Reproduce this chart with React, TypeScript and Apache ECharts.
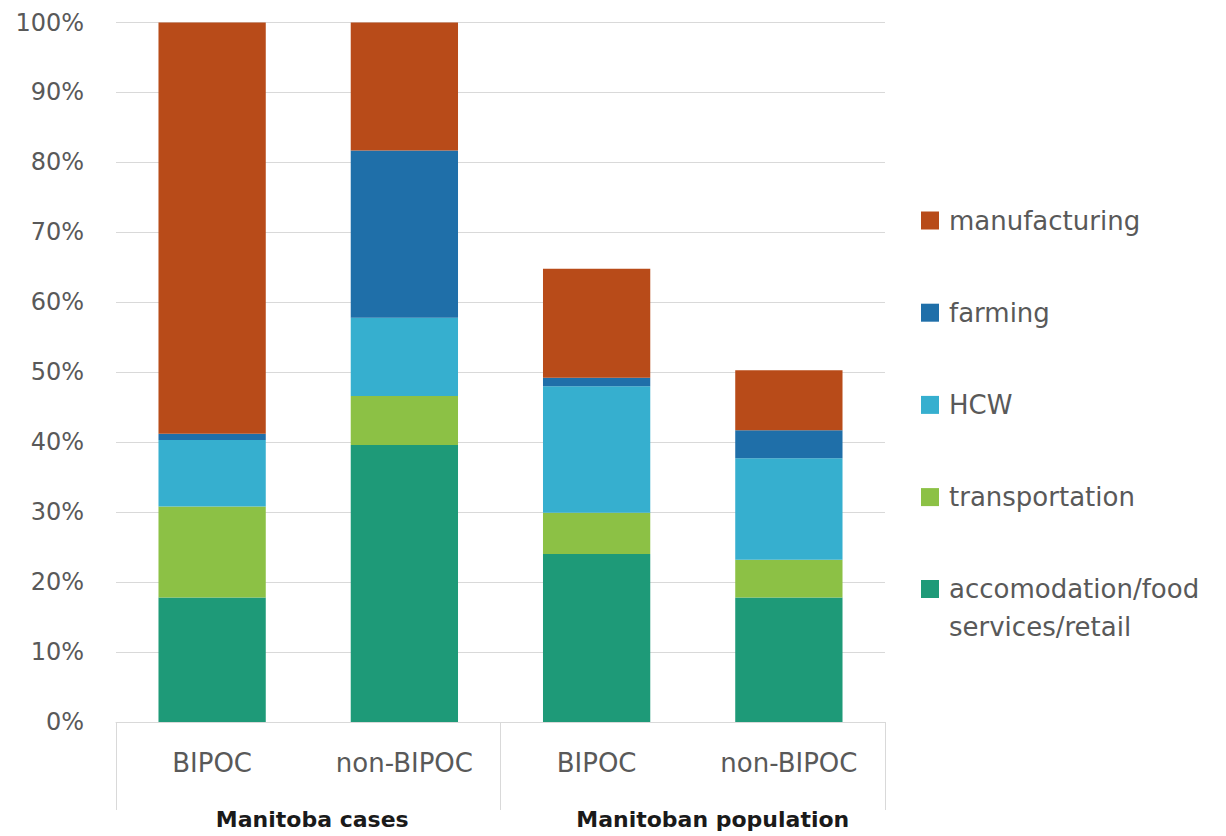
import React, { useEffect, useRef } from "react";
import * as echarts from "echarts";

const categories = ["BIPOC", "non-BIPOC", "BIPOC", "non-BIPOC"];
const groups = ["Manitoba cases", "Manitoban population"];
const ACCOM = "accomodation/food services/retail";
const accommodation = [17.8, 39.6, 24.0, 17.8];
const transportation = [13.0, 7.0, 5.9, 5.4];
const hcw = [9.5, 11.2, 18.1, 14.5];
const farming = [0.9, 23.9, 1.2, 4.0];
const manufacturing = [58.8, 18.3, 15.6, 8.6];

const FONT = "DejaVu Sans";
const GRAY = "#595959";
const LINE = "#d9d9d9";

export default function App() {
  const ref = useRef<HTMLDivElement>(null);
  useEffect(() => {
    if (!ref.current) return;
    const chart = echarts.init(ref.current, undefined, { renderer: "svg" });
    const legendText = {
      fontFamily: FONT,
      fontSize: 26,
      color: GRAY,
      lineHeight: 38,
      padding: [0, 0, 0, 5],
    };
    const bar = (name: string, data: number[], color: string) => ({
      name,
      type: "bar",
      stack: "total",
      data,
      barWidth: "55.8%",
      itemStyle: { color },
      emphasis: { disabled: true },
    });
    chart.setOption({
      animation: false,
      backgroundColor: "#ffffff",
      grid: { left: 116, right: 341, top: 22.5, bottom: 114, containLabel: false },
      legend: [
        {
          orient: "vertical",
          left: 921,
          top: 201.5,
          padding: 0,
          itemWidth: 18,
          itemHeight: 18,
          itemGap: 54.2,
          icon: "rect",
          selectedMode: false,
          textStyle: legendText,
          data: ["manufacturing", "farming", "HCW", "transportation"],
        },
        {
          orient: "vertical",
          left: 921,
          top: 532,
          padding: 0,
          itemWidth: 18,
          itemHeight: 18,
          icon: "rect",
          selectedMode: false,
          textStyle: legendText,
          formatter: (n: string) => (n === ACCOM ? "\naccomodation/food\nservices/retail" : n),
          data: [ACCOM],
        },
      ],
      xAxis: [
        {
          type: "category",
          data: categories,
          position: "bottom",
          axisLine: { show: true, lineStyle: { color: LINE, width: 1 } },
          axisTick: { show: false },
          axisLabel: { fontFamily: FONT, fontSize: 26, color: GRAY, margin: 28, interval: 0 },
          splitLine: { show: false },
        },
        {
          type: "category",
          data: [
            { value: groups[0], textStyle: { padding: [0, 0, 0, 8] } },
            { value: groups[1], textStyle: { padding: [0, 0, 0, 40] } },
          ],
          position: "bottom",
          axisLine: { show: false },
          axisTick: { show: true, length: 88, lineStyle: { color: LINE, width: 1 } },
          axisLabel: {
            fontFamily: FONT,
            fontSize: 22,
            fontWeight: "bold",
            color: "#1a1a1a",
            margin: 86,
            interval: 0,
          },
          splitLine: { show: false },
        },
      ],
      yAxis: {
        type: "value",
        min: 0,
        max: 100,
        interval: 10,
        axisLine: { show: false },
        axisTick: { show: false },
        axisLabel: { formatter: "{value}%", fontFamily: FONT, fontSize: 24, color: GRAY, margin: 32 },
        splitLine: { lineStyle: { color: LINE, width: 1 } },
      },
      series: [
        bar(ACCOM, accommodation, "#1e9a78"),
        bar("transportation", transportation, "#8cc145"),
        bar("HCW", hcw, "#36afcf"),
        bar("farming", farming, "#1f6fa9"),
        bar("manufacturing", manufacturing, "#b84b19"),
      ],
    });
    return () => chart.dispose();
  }, []);
  return (
    <div
      ref={ref}
      style={{ position: "absolute", left: 0, top: 0, width: 1226, height: 836, background: "#fff" }}
    />
  );
}
